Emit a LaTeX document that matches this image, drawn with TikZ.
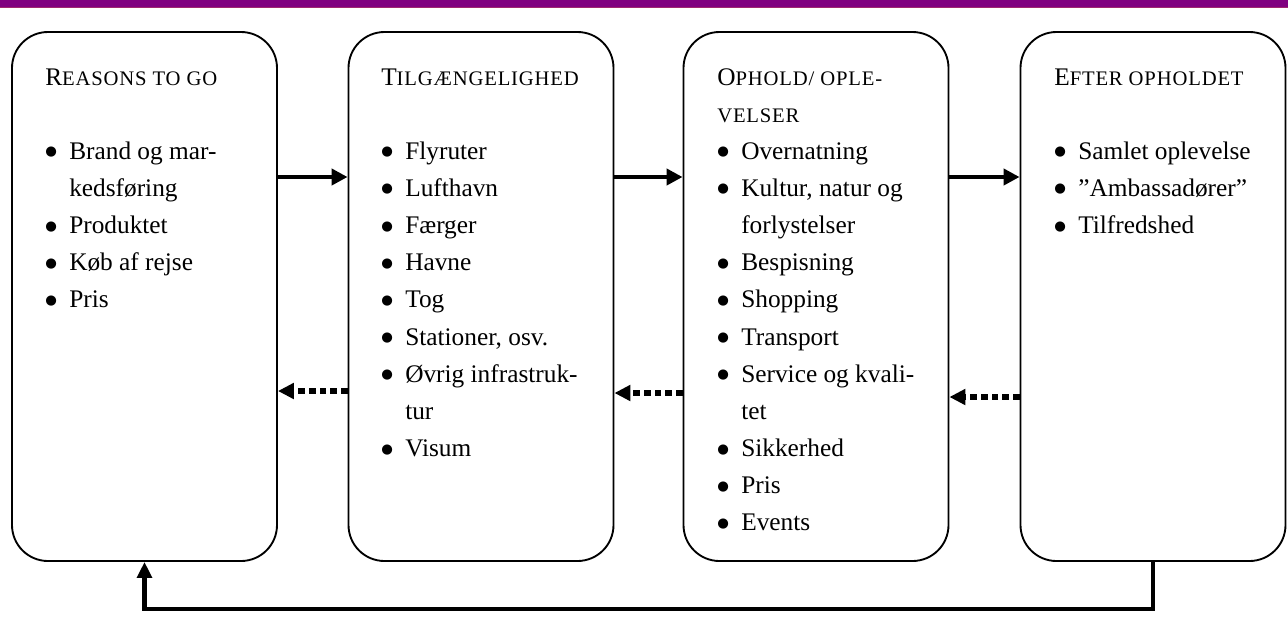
\documentclass[tikz,border=0pt]{standalone}
\usepackage{fontspec}
\setmainfont{Liberation Serif}
\newfontfamily\capsfont[LetterSpace=4]{Liberation Serif}
\newfontfamily\symfont{DejaVu Sans}
\usetikzlibrary{arrows.meta}
\definecolor{bandpurple}{RGB}{128,0,128}
\definecolor{bandline}{RGB}{160,40,110}
% headings in capitals and small capitals
\newcommand\hdr[2]{{\capsfont #1{\fontsize{15.5}{15.5}\selectfont #2}}}
% bullet with hanging indent
\newcommand\bul{\makebox[18pt][l]{\raisebox{2.6pt}{\symfont\fontsize{10}{10}\selectfont ●}}}
\newcommand\cont{\hspace*{18pt}}
\begin{document}
\begin{tikzpicture}[x=0.75pt,y=-0.75pt,
  box/.style={draw=black,line width=1.4pt,rounded corners=27pt,
    minimum width=198.75pt,minimum height=396.75pt,inner sep=0pt},
  txt/.style={anchor=base west,inner sep=0pt,font=\fontsize{19}{22}\selectfont},
  fwd/.style={line width=3pt,-{Triangle[length=12pt,width=12pt]}},
  back/.style={line width=4pt,dash pattern=on 5pt off 3pt,
    -{Triangle[length=12pt,width=11.5pt]}},
  loopback/.style={line width=3.4pt,-{Triangle[length=12pt,width=11pt]}}]
\useasboundingbox (0,0) rectangle (1288,626);
% title band
\fill[bandpurple] (0,0) rectangle (1288,7);
\draw[bandline,line width=0.9pt] (0,7.6) -- (1288,7.6);

% the four stages
\node[box] (box1) at (144.5,296.5) {};
\node[box] (box2) at (481,296.5) {};
\node[box] (box3) at (816,296.5) {};
\node[box] (box4) at (1153,296.5) {};

\def\lh{37.15}
\foreach \k/\t in {0/{\hdr{R}{EASONS TO GO}},
    2/{\bul Brand og mar-},3/{\cont kedsføring},4/{\bul Produktet},
    5/{\bul Køb af rejse},6/{\bul Pris}}
  \node[txt] (a\k) at (45,{85+\lh*\k}) {\t};

\foreach \k/\t in {0/{\hdr{T}{ILGÆNGELIGHED}},
    2/{\bul Flyruter},3/{\bul Lufthavn},4/{\bul Færger},5/{\bul Havne},
    6/{\bul Tog},7/{\bul Stationer, osv.},8/{\bul Øvrig infrastruk-},
    9/{\cont tur},10/{\bul Visum}}
  \node[txt] (b\k) at (381,{85+\lh*\k}) {\t};

\foreach \k/\t in {0/{\hdr{O}{PHOLD/ OPLE-}},1/{\hdr{}{VELSER}},
    2/{\bul Overnatning},3/{\bul Kultur, natur og},4/{\cont forlystelser},
    5/{\bul Bespisning},6/{\bul Shopping},7/{\bul Transport},
    8/{\bul Service og kvali-},9/{\cont tet},10/{\bul Sikkerhed},
    11/{\bul Pris},12/{\bul Events}}
  \node[txt] (c\k) at (717,{85+\lh*\k}) {\t};

\foreach \k/\t in {0/{\hdr{E}{FTER OPHOLDET}},
    2/{\bul Samlet oplevelse},3/{\bul ”Ambassadører”},4/{\bul Tilfredshed}}
  \node[txt] (d\k) at (1054,{85+\lh*\k}) {\t};

% forward flow
\coordinate (fy) at (0,177);
\draw[fwd] (box1.east |- fy) -- (box2.west |- fy);
\draw[fwd] (box2.east |- fy) -- (box3.west |- fy);
\draw[fwd] (box3.east |- fy) -- (box4.west |- fy);

% feedback between neighbouring stages
\coordinate (by1) at (0,391);
\coordinate (by2) at (0,393);
\coordinate (by3) at (0,397);
\draw[back] (box2.west |- by1) -- (box1.east |- by1);
\draw[back] (box3.west |- by2) -- (box2.east |- by2);
\draw[back] (box4.west |- by3) -- (box3.east |- by3);

% return from the last stage to the first
\draw[loopback] (box4.south) -- ++(0,47) -| (box1.south);
\end{tikzpicture}
\end{document}
